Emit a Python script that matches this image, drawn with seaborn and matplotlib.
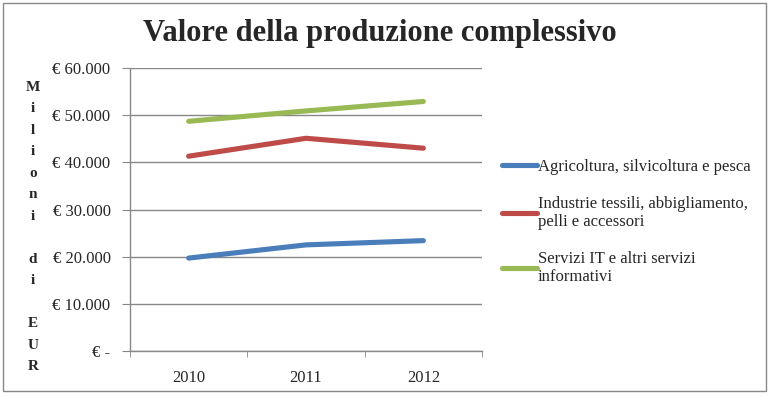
import pandas as pd
import matplotlib.pyplot as plt
import seaborn as sns
from matplotlib.patches import Rectangle
from matplotlib.ticker import FixedLocator

# values (milioni di EUR)
years = ["2010", "2011", "2012"]
agricoltura = [19700, 22500, 23400]
tessili = [41300, 45100, 43000]
servizi_it = [48700, 50900, 52900]

series_names = [
    "Agricoltura, silvicoltura e pesca",
    "Industrie tessili, abbigliamento,\npelli e accessori",
    "Servizi IT e altri servizi\ninformativi",
]
colors = ["#4A7EBB", "#BE4B48", "#98B954"]
yticks = [0, 10000, 20000, 30000, 40000, 50000, 60000]

df = pd.DataFrame({
    "Anno": years * 3,
    "Valore": agricoltura + tessili + servizi_it,
    "Settore": [series_names[0]] * 3 + [series_names[1]] * 3 + [series_names[2]] * 3,
})

sns.set_style("white")
plt.rcParams["font.family"] = ["Liberation Serif", "DejaVu Serif"]

fig = plt.figure(figsize=(7.69, 3.97), dpi=100)
ax = fig.add_axes([130 / 769, 1 - 351 / 397, 352 / 769, 283 / 397])

sns.lineplot(data=df, x="Anno", y="Valore", hue="Settore", palette=colors,
             linewidth=3.7, sort=False, ax=ax, solid_capstyle="round")

ax.set_xlim(-0.5, 2.5)
ax.set_ylim(0, 60000)
ax.set_yticks(yticks)
ax.set_yticklabels(["€ -"] + ["€ {:,}".format(v).replace(",", ".") for v in yticks[1:]])
ax.yaxis.grid(True, color="#888888", linewidth=1)
ax.set_axisbelow(True)
ax.set_xlabel("")
ax.set_ylabel("")

for s in ["top", "right"]:
    ax.spines[s].set_visible(False)
for s in ["left", "bottom"]:
    ax.spines[s].set_color("#888888")
    ax.spines[s].set_linewidth(1)

ax.tick_params(axis="y", which="major", left=True, length=6, color="#888888",
               labelsize=12, pad=8)
ax.tick_params(axis="x", which="major", bottom=False, labelsize=12, pad=10)
ax.xaxis.set_minor_locator(FixedLocator([-0.5, 0.5, 1.5, 2.5]))
ax.tick_params(axis="x", which="minor", bottom=True, length=4, color="#888888")

fig.text(380 / 769, 1 - 33 / 397, "Valore della produzione complessivo",
         ha="center", va="center", fontsize=22, fontweight="bold")

fig.text(33 / 769, 1 - 227 / 397, "\n".join("Milioni di EUR"), ha="center", va="center",
         fontsize=11, fontweight="bold", linespacing=1.85)

leg = ax.legend(loc="center left", bbox_to_anchor=(502 / 769, 1 - 222 / 397),
                bbox_transform=fig.transFigure, frameon=False, fontsize=12,
                handlelength=2.1, handletextpad=0.05, labelspacing=1.25,
                borderpad=0, borderaxespad=0, title=None)
for line in leg.get_lines():
    line.set_linewidth(3.7)

fig.patches.append(Rectangle((3 / 769, 1 - 391 / 397), 763 / 769, 388 / 397,
                             transform=fig.transFigure, fill=False,
                             edgecolor="#888888", linewidth=1))

fig.savefig("out.png", dpi=100)
